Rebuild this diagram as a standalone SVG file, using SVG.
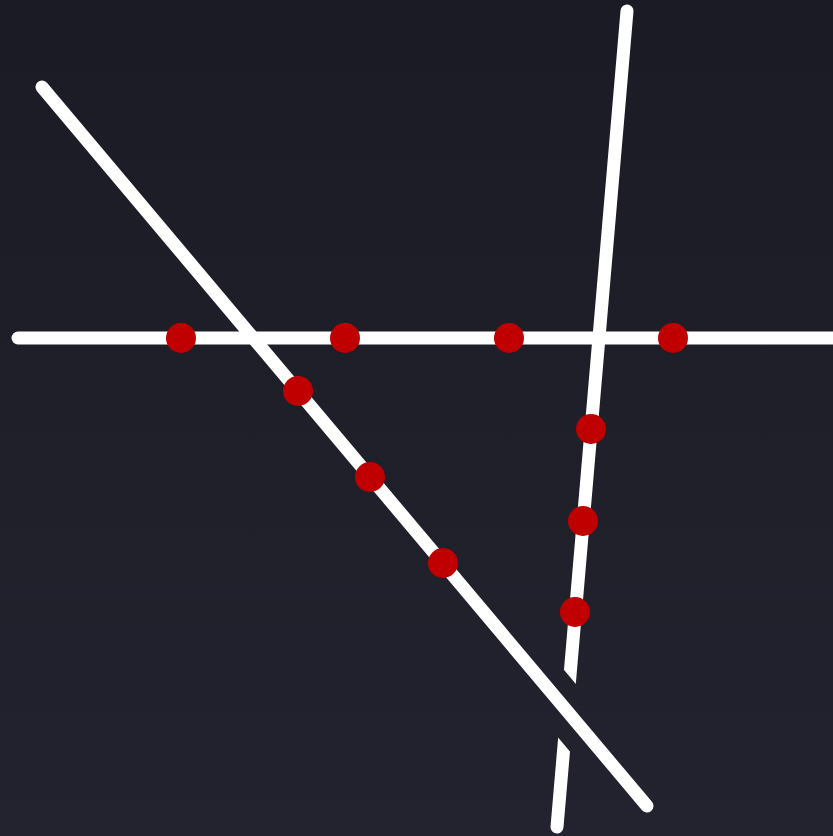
<svg xmlns="http://www.w3.org/2000/svg" width="833" height="836" viewBox="0 0 833 836">
<defs>
<linearGradient id="bg" gradientUnits="userSpaceOnUse" x1="0" y1="0" x2="0" y2="836">
<stop offset="0" stop-color="#1b1b25"/>
<stop offset="1" stop-color="#23232f"/>
</linearGradient>
<style>
.ln{stroke:#ffffff;stroke-width:13;stroke-linecap:round;fill:none}
.halo{stroke:url(#bg);stroke-width:48;stroke-linecap:butt;fill:none}
.dot{fill:#c00000}
</style>
</defs>
<rect width="833" height="836" fill="url(#bg)"/>
<g id="connectors">
<line id="line-horizontal" class="ln" x1="18" y1="338" x2="845" y2="338"/>
<line id="line-steep" class="ln" x1="627" y1="11" x2="557" y2="827"/>
<line id="bridge-halo" class="halo" x1="535" y1="672.8" x2="600" y2="750"/>
<line id="line-diagonal" class="ln" x1="42" y1="87" x2="647" y2="806"/>
</g>
<g id="node-h1"><circle class="dot" cx="181" cy="338" r="15"/></g>
<g id="node-h2"><circle class="dot" cx="345" cy="338" r="15"/></g>
<g id="node-h3"><circle class="dot" cx="509" cy="338" r="15"/></g>
<g id="node-h4"><circle class="dot" cx="673" cy="338" r="15"/></g>
<g id="node-d1"><circle class="dot" cx="298" cy="391" r="15"/></g>
<g id="node-d2"><circle class="dot" cx="370" cy="477" r="15"/></g>
<g id="node-d3"><circle class="dot" cx="443" cy="563" r="15"/></g>
<g id="node-v1"><circle class="dot" cx="591" cy="429" r="15"/></g>
<g id="node-v2"><circle class="dot" cx="583" cy="521" r="15"/></g>
<g id="node-v3"><circle class="dot" cx="575" cy="612" r="15"/></g>
</svg>
